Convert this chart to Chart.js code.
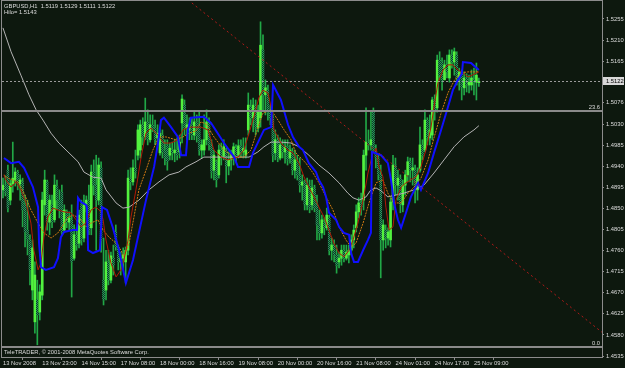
<!DOCTYPE html>
<html><head><meta charset="utf-8">
<script src="https://cdn.jsdelivr.net/npm/chart.js@4/dist/chart.umd.min.js"></script>
<style>html,body{margin:0;padding:0;background:#0d180e;overflow:hidden}canvas{display:block}</style>
</head><body><canvas id="c" width="625" height="368"></canvas>
<script>
// ---- data (GBPUSD H1, 13 Nov 2008 07:00 .. 25 Nov 2008 11:00) ----
const openPrices=[1.4890,1.4900,1.4932,1.4868,1.4903,1.4911,1.4928,1.4903,1.4907,1.4858,1.4804,1.4783,1.4676,1.4608,1.4655,1.4629,1.4665,1.4858,1.4907,1.4821,1.4858,1.4826,1.4898,1.4868,1.4885,1.4804,1.4843,1.4821,1.4826,1.4744,1.4794,1.4776,1.4858,1.4787,1.4858,1.4868,1.4809,1.4928,1.4900,1.4868,1.4937,1.4697,1.4676,1.4736,1.4697,1.4744,1.4800,1.4768,1.4736,1.4744,1.4736,1.4761,1.4915,1.4907,1.4937,1.4964,1.4975,1.5029,1.5003,1.5035,1.4997,1.5029,1.5022,1.5001,1.4969,1.5007,1.4975,1.4986,1.4964,1.4975,1.4969,1.4975,1.4971,1.5033,1.5071,1.5022,1.5018,1.5029,1.5007,1.5035,1.5029,1.4975,1.4975,1.4997,1.5035,1.4986,1.4932,1.4950,1.4922,1.4975,1.4962,1.4975,1.4941,1.4954,1.4960,1.4979,1.4964,1.4984,1.4971,1.4964,1.5018,1.5067,1.5044,1.5071,1.5022,1.5044,1.5189,1.5093,1.5103,1.5056,1.5044,1.4969,1.4997,1.4958,1.4986,1.4971,1.4982,1.4958,1.4971,1.4932,1.4950,1.4922,1.4900,1.4907,1.4858,1.4900,1.4858,1.4894,1.4858,1.4815,1.4798,1.4821,1.4809,1.4830,1.4761,1.4772,1.4751,1.4736,1.4744,1.4761,1.4744,1.4751,1.4761,1.4783,1.4809,1.4843,1.4862,1.4868,1.4964,1.4992,1.4986,1.5056,1.4975,1.4958,1.4922,1.4783,1.4804,1.4787,1.4783,1.4864,1.4943,1.4900,1.4915,1.4858,1.4900,1.4922,1.4950,1.4932,1.4932,1.4890,1.4932,1.4986,1.4975,1.5039,1.5001,1.5007,1.5082,1.5065,1.5167,1.5163,1.5125,1.5157,1.5129,1.5178,1.5163,1.5178,1.5129,1.5142,1.5108,1.5129,1.5114,1.5114,1.5125,1.5120,1.5119];
const highPrices=[1.4915,1.4920,1.4943,1.4911,1.4992,1.4937,1.4932,1.4922,1.4915,1.4879,1.4868,1.4794,1.4783,1.4736,1.4697,1.4687,1.4885,1.4932,1.4911,1.4879,1.4879,1.4922,1.4911,1.4890,1.4900,1.4858,1.4847,1.4843,1.4858,1.4815,1.4809,1.4847,1.4868,1.4879,1.4877,1.4900,1.4943,1.4954,1.4964,1.4958,1.4950,1.4787,1.4761,1.4761,1.4757,1.4772,1.4815,1.4772,1.4757,1.4766,1.4768,1.4932,1.4937,1.4954,1.4975,1.5029,1.5039,1.5044,1.5086,1.5061,1.5050,1.5050,1.5039,1.5029,1.5022,1.5018,1.4997,1.4997,1.4990,1.4992,1.4997,1.5001,1.5007,1.5093,1.5082,1.5050,1.5044,1.5044,1.5056,1.5050,1.5056,1.4997,1.5050,1.5061,1.5044,1.4997,1.4975,1.4954,1.4986,1.4990,1.4997,1.4979,1.4971,1.4975,1.4990,1.4986,1.4997,1.4997,1.5001,1.5001,1.5097,1.5082,1.5086,1.5082,1.5071,1.5249,1.5221,1.5125,1.5114,1.5071,1.5050,1.5018,1.5007,1.5001,1.4997,1.4997,1.4997,1.4986,1.4979,1.4975,1.4964,1.4958,1.4922,1.4911,1.4915,1.4911,1.4911,1.4900,1.4879,1.4847,1.4836,1.4830,1.4851,1.4836,1.4787,1.4783,1.4772,1.4757,1.4772,1.4772,1.4772,1.4772,1.4794,1.4815,1.4858,1.4873,1.4883,1.4975,1.5065,1.5018,1.5056,1.5065,1.4986,1.4964,1.4943,1.4826,1.4815,1.4809,1.4873,1.4964,1.4958,1.4932,1.4922,1.4911,1.4932,1.4960,1.4958,1.4958,1.4943,1.4937,1.5024,1.4997,1.5061,1.5044,1.5050,1.5088,1.5093,1.5178,1.5185,1.5172,1.5167,1.5178,1.5189,1.5189,1.5193,1.5185,1.5150,1.5146,1.5142,1.5138,1.5135,1.5146,1.5150,1.5161,1.5129];
const lowPrices=[1.4873,1.4877,1.4843,1.4858,1.4885,1.4898,1.4890,1.4868,1.4811,1.4768,1.4751,1.4687,1.4655,1.4584,1.4559,1.4612,1.4655,1.4836,1.4804,1.4794,1.4809,1.4821,1.4847,1.4830,1.4794,1.4800,1.4809,1.4804,1.4661,1.4740,1.4761,1.4766,1.4772,1.4779,1.4843,1.4794,1.4794,1.4879,1.4761,1.4858,1.4757,1.4644,1.4655,1.4687,1.4691,1.4708,1.4761,1.4719,1.4708,1.4719,1.4691,1.4751,1.4890,1.4900,1.4915,1.4954,1.4958,1.4986,1.4997,1.4986,1.4992,1.5014,1.4986,1.4986,1.4964,1.4958,1.4943,1.4932,1.4954,1.4954,1.4950,1.4954,1.4958,1.4990,1.5007,1.4997,1.4997,1.4997,1.4997,1.4992,1.4964,1.4958,1.4964,1.4986,1.4975,1.4915,1.4911,1.4896,1.4915,1.4943,1.4954,1.4905,1.4922,1.4932,1.4943,1.4950,1.4958,1.4960,1.4958,1.4958,1.5007,1.5029,1.5014,1.5007,1.5014,1.5024,1.5061,1.5050,1.5039,1.5029,1.4950,1.4954,1.4950,1.4954,1.4958,1.4947,1.4943,1.4947,1.4922,1.4915,1.4911,1.4885,1.4868,1.4847,1.4847,1.4841,1.4847,1.4843,1.4783,1.4783,1.4787,1.4794,1.4804,1.4751,1.4740,1.4736,1.4712,1.4723,1.4729,1.4736,1.4740,1.4734,1.4751,1.4766,1.4800,1.4830,1.4836,1.4847,1.4932,1.4975,1.4975,1.4971,1.4937,1.4911,1.4702,1.4761,1.4766,1.4772,1.4768,1.4847,1.4879,1.4868,1.4841,1.4843,1.4879,1.4907,1.4907,1.4900,1.4862,1.4868,1.4928,1.4954,1.4971,1.4986,1.4986,1.4997,1.5039,1.5056,1.5125,1.5103,1.5125,1.5129,1.5120,1.5150,1.5135,1.5114,1.5103,1.5082,1.5093,1.5099,1.5097,1.5103,1.5093,1.5082,1.5111];
const closePrices=[1.4900,1.4885,1.4851,1.4903,1.4915,1.4928,1.4903,1.4911,1.4847,1.4800,1.4783,1.4719,1.4766,1.4708,1.4623,1.4672,1.4868,1.4911,1.4821,1.4868,1.4821,1.4900,1.4868,1.4847,1.4800,1.4847,1.4821,1.4830,1.4736,1.4794,1.4772,1.4836,1.4783,1.4858,1.4868,1.4804,1.4928,1.4900,1.4868,1.4943,1.4783,1.4655,1.4736,1.4697,1.4749,1.4729,1.4768,1.4736,1.4744,1.4751,1.4761,1.4915,1.4907,1.4937,1.4928,1.5018,1.5029,1.5003,1.5035,1.4997,1.5029,1.5022,1.4997,1.5011,1.5011,1.4971,1.4958,1.4950,1.4979,1.4969,1.4975,1.4964,1.4992,1.5084,1.5022,1.5029,1.5029,1.5007,1.5035,1.5005,1.4975,1.4986,1.4997,1.5035,1.4986,1.4928,1.4964,1.4911,1.4975,1.4962,1.4982,1.4941,1.4954,1.4964,1.4982,1.4958,1.4984,1.4971,1.4979,1.4975,1.5071,1.5044,1.5071,1.5022,1.5056,1.5199,1.5093,1.5108,1.5056,1.5044,1.4964,1.4997,1.4958,1.4986,1.4971,1.4982,1.4954,1.4975,1.4932,1.4954,1.4922,1.4900,1.4907,1.4858,1.4900,1.4851,1.4894,1.4851,1.4815,1.4798,1.4826,1.4809,1.4836,1.4761,1.4772,1.4751,1.4729,1.4744,1.4761,1.4744,1.4757,1.4761,1.4783,1.4804,1.4843,1.4862,1.4853,1.4964,1.4992,1.4986,1.4997,1.4975,1.4958,1.4922,1.4783,1.4815,1.4787,1.4800,1.4864,1.4943,1.4900,1.4915,1.4858,1.4900,1.4922,1.4950,1.4932,1.4937,1.4890,1.4922,1.4986,1.4964,1.5039,1.5001,1.5018,1.5082,1.5061,1.5167,1.5135,1.5120,1.5157,1.5142,1.5178,1.5163,1.5185,1.5129,1.5142,1.5108,1.5129,1.5114,1.5120,1.5129,1.5120,1.5135,1.5122];

// indicator lines: [bar index, price]
const blueLine=[[0.4,1.4958],[3.3,1.4947],[6.5,1.4950],[8.6,1.4937],[12.2,1.4896],[14.3,1.4853],[14.7,1.4776],[15.5,1.4725],[17.5,1.4719],[20.8,1.4725],[22.4,1.4744],[23.6,1.4789],[24.9,1.4800],[28.5,1.4804],[30.2,1.4804],[30.6,1.4873],[31.8,1.4864],[33.8,1.4858],[34.2,1.4853],[34.7,1.4761],[36.7,1.4755],[39.5,1.4761],[40.4,1.4853],[42.4,1.4847],[44.8,1.4809],[47.3,1.4761],[50.1,1.4691],[53.0,1.4740],[58.3,1.4868],[61.6,1.4939],[63.2,1.4990],[64.4,1.5039],[65.6,1.5044],[68.5,1.5024],[71.3,1.5003],[72.6,1.4964],[74.6,1.4964],[75.4,1.5018],[76.6,1.5044],[81.9,1.5046],[84.8,1.5033],[90.1,1.4990],[94.2,1.4960],[95.8,1.4939],[100.3,1.4939],[101.9,1.4969],[106.4,1.5018],[109.3,1.5024],[110.1,1.5114],[113.3,1.5082],[116.2,1.5029],[118.2,1.5003],[120.7,1.4982],[122.3,1.4975],[124.7,1.4947],[127.6,1.4928],[128.8,1.4911],[130.5,1.4896],[131.7,1.4875],[132.9,1.4841],[135.8,1.4826],[137.0,1.4811],[139.0,1.4798],[141.1,1.4794],[141.9,1.4755],[143.1,1.4736],[144.7,1.4736],[146.8,1.4761],[148.8,1.4783],[150.0,1.4798],[150.4,1.4971],[154.1,1.4964],[156.9,1.4947],[158.2,1.4911],[159.4,1.4862],[161.0,1.4826],[162.3,1.4809],[164.3,1.4841],[166.3,1.4875],[169.2,1.4905],[170.4,1.4890],[173.3,1.4926],[175.7,1.4969],[178.6,1.5018],[181.4,1.5067],[183.4,1.5103],[185.5,1.5125],[187.1,1.5138],[187.5,1.5163],[190.8,1.5161],[194.0,1.5146]];
const redLine=[[0.4,1.4922],[1.2,1.4911],[3.3,1.4896],[5.3,1.4907],[7.3,1.4890],[9.4,1.4862],[11.4,1.4819],[12.6,1.4761],[14.3,1.4719],[15.5,1.4734],[16.7,1.4789],[18.3,1.4832],[20.4,1.4851],[22.4,1.4847],[24.9,1.4843],[27.7,1.4841],[29.8,1.4826],[31.8,1.4811],[33.8,1.4819],[35.9,1.4847],[37.9,1.4853],[40.0,1.4843],[40.8,1.4826],[42.0,1.4783],[44.0,1.4734],[46.1,1.4704],[48.1,1.4719],[49.3,1.4740],[51.0,1.4783],[52.2,1.4832],[54.2,1.4890],[56.3,1.4960],[58.3,1.5011],[60.3,1.5022],[63.2,1.5007],[65.6,1.4990],[68.5,1.4990],[71.3,1.4997],[73.4,1.5018],[75.8,1.5024],[80.7,1.5024],[83.6,1.5018],[86.0,1.4975],[88.9,1.4960],[91.7,1.4954],[95.8,1.4960],[98.2,1.4975],[100.3,1.5011],[102.3,1.5046],[104.4,1.5088],[106.0,1.5103],[108.0,1.5097],[109.3,1.5067],[110.5,1.5018],[113.3,1.4990],[116.2,1.4975],[118.2,1.4969],[120.7,1.4947],[122.7,1.4918],[124.7,1.4896],[126.8,1.4875],[128.8,1.4853],[130.9,1.4832],[132.9,1.4804],[134.9,1.4776],[137.0,1.4755],[139.0,1.4747],[141.1,1.4761],[142.7,1.4783],[144.7,1.4819],[146.8,1.4868],[148.8,1.4926],[150.8,1.4969],[152.1,1.4979],[153.3,1.4939],[154.9,1.4918],[156.1,1.4853],[157.4,1.4804],[159.0,1.4811],[160.2,1.4868],[162.3,1.4896],[164.3,1.4905],[166.3,1.4911],[168.4,1.4918],[170.4,1.4939],[172.4,1.4975],[174.5,1.5024],[175.7,1.5067],[177.3,1.5118],[179.4,1.5146],[181.4,1.5157],[183.4,1.5157],[185.5,1.5146],[187.5,1.5140],[189.6,1.5131],[192.0,1.5137],[194.0,1.5142]];
const orangeLine=[[0.4,1.4922],[2.0,1.4915],[6.1,1.4907],[8.6,1.4883],[11.4,1.4847],[14.3,1.4819],[16.7,1.4798],[19.6,1.4787],[22.4,1.4798],[24.5,1.4815],[26.5,1.4832],[28.9,1.4836],[31.8,1.4826],[33.8,1.4811],[35.9,1.4819],[38.7,1.4826],[40.8,1.4804],[43.2,1.4789],[46.1,1.4776],[48.1,1.4761],[49.3,1.4747],[51.4,1.4776],[53.4,1.4832],[55.4,1.4890],[58.3,1.4932],[61.1,1.4975],[63.6,1.5003],[66.5,1.5003],[70.5,1.4997],[73.4,1.5003],[75.8,1.5011],[78.7,1.5016],[80.7,1.5035],[82.8,1.5031],[86.0,1.5003],[90.1,1.4975],[94.2,1.4960],[98.2,1.4960],[101.1,1.4975],[104.0,1.5024],[106.0,1.5054],[109.3,1.5061],[112.1,1.5039],[114.6,1.5018],[117.4,1.4997],[119.4,1.4969],[123.5,1.4947],[126.4,1.4926],[128.8,1.4905],[131.7,1.4875],[134.5,1.4847],[137.0,1.4811],[139.8,1.4783],[141.9,1.4768],[143.9,1.4776],[146.8,1.4819],[149.2,1.4862],[152.1,1.4905],[154.9,1.4911],[156.9,1.4883],[159.4,1.4862],[162.3,1.4862],[165.1,1.4883],[167.6,1.4896],[170.4,1.4915],[173.3,1.4954],[175.7,1.5001],[178.6,1.5054],[181.4,1.5097],[183.9,1.5123],[186.7,1.5140],[189.6,1.5142],[194.0,1.5142]];
const grayLine=[[0.0,1.5236],[3.3,1.5185],[7.3,1.5135],[10.6,1.5093],[13.5,1.5061],[16.3,1.5039],[19.6,1.5011],[22.8,1.4990],[26.5,1.4971],[30.6,1.4950],[33.0,1.4928],[36.7,1.4917],[40.0,1.4915],[42.0,1.4890],[46.1,1.4862],[48.9,1.4851],[51.4,1.4853],[55.4,1.4868],[59.5,1.4890],[63.6,1.4907],[67.7,1.4922],[71.7,1.4928],[74.6,1.4939],[78.7,1.4950],[81.9,1.4960],[90.1,1.4960],[100.3,1.4960],[103.9,1.4971],[106.4,1.4982],[109.3,1.4992],[113.3,1.4992],[117.4,1.4990],[120.7,1.4982],[124.7,1.4964],[128.8,1.4943],[132.9,1.4926],[137.0,1.4905],[140.6,1.4883],[142.7,1.4873],[145.1,1.4868],[148.0,1.4875],[150.0,1.4890],[152.1,1.4894],[154.1,1.4888],[156.9,1.4875],[160.2,1.4879],[163.5,1.4883],[167.6,1.4890],[171.6,1.4900],[175.7,1.4926],[179.8,1.4954],[183.9,1.4982],[187.9,1.5003],[192.0,1.5018],[194.0,1.5027]];
const trendLine=[[75.4,1.5296],[244.6,1.4584]];
const fibLevels=[['23.6',1.5058],['0.0',1.4554]];
const bidPrice=1.5122;
const xTickIndex=[0,16,32,48,64,80,96,112,128,144,160,176,192];
const xTickLabels=['13 Nov 2008','13 Nov 23:00','14 Nov 15:00','17 Nov 08:00','18 Nov 00:00','18 Nov 16:00','19 Nov 08:00','20 Nov 00:00','20 Nov 16:00','21 Nov 08:00','24 Nov 01:00','24 Nov 17:00','25 Nov 09:00'];
const yTickValues=[1.4535,1.4580,1.4625,1.4670,1.4715,1.4760,1.4805,1.4850,1.4895,1.4940,1.4985,1.5030,1.5076,1.5165,1.5210,1.5255];
const yTickLabels=['1.4535','1.4580','1.4625','1.4670','1.4715','1.4760','1.4805','1.4850','1.4895','1.4940','1.4985','1.5030','1.5076','1.5165','1.5210','1.5255'];
const headerLines=['GBPUSD,H1  1.5119 1.5129 1.5111 1.5122','Hilo= 1.5143'];
const copyrightText='TeleTRADER, \u00a9 2001-2008 MetaQuotes Software Corp.';

// ---- styling ----
const BG='#0d180e', FG='#dcdcdc', FRAME='#8c8c8c';
const FONT='"Liberation Sans", Arial, sans-serif';
const FS=5.8;
const pc=document.createElement('canvas'); pc.width=2; pc.height=2;
const pctx=pc.getContext('2d');
pctx.fillStyle='#0f3a24'; pctx.fillRect(0,0,2,2);
pctx.fillStyle='#2a9c62'; pctx.fillRect(0,0,1,1); pctx.fillRect(1,1,1,1);
const bearPattern=document.createElement('canvas').getContext('2d').createPattern(pc,'repeat');

const idx=openPrices.map((_,i)=>i);
const wickData=idx.map(i=>({x:i,y:[lowPrices[i],highPrices[i]]}));
const bodyData=idx.map(i=>({x:i,y:[openPrices[i],closePrices[i]]}));
const bodyColors=idx.map(i=>closePrices[i]>=openPrices[i]?'#52f23e':bearPattern);
const toXY=a=>a.map(([x,y])=>({x,y}));
const lineDs=(data,color,width,dash,order)=>({type:'line',data:toXY(data),borderColor:color,borderWidth:width,borderDash:dash,pointRadius:0,tension:0,fill:false,order});

const mt4={
  id:'mt4',
  beforeDraw(ch){const c=ch.ctx;c.save();c.fillStyle=BG;c.fillRect(0,0,ch.width,ch.height);c.restore();},
  afterDatasetsDraw(ch){
    const c=ch.ctx, ys=ch.scales.y, a=ch.chartArea;
    c.save();
    c.font=FS+'px '+FONT; c.textAlign='right'; c.textBaseline='alphabetic';
    fibLevels.forEach(([lab,p])=>{
      const y=Math.round(ys.getPixelForValue(p));
      c.fillStyle='#8a8a8a'; c.fillRect(a.left,y-1,a.right-a.left,2);
      c.fillStyle=FG; c.fillText(lab,a.right-2,y-2.5);
    });
    const by=Math.round(ys.getPixelForValue(bidPrice))+0.5;
    c.strokeStyle='#9a9a9a'; c.lineWidth=1; c.setLineDash([2,2]);
    c.beginPath(); c.moveTo(a.left,by); c.lineTo(a.right,by); c.stroke();
    c.restore();
  },
  afterDraw(ch){
    const c=ch.ctx, ys=ch.scales.y, a=ch.chartArea;
    c.save();
    c.strokeStyle=FRAME; c.lineWidth=1;
    c.strokeRect(1.5,0.5,a.right-1,a.bottom);
    c.font=FS+'px '+FONT; c.fillStyle=FG; c.textAlign='left'; c.textBaseline='middle';
    c.fillText(headerLines[0],4,6.5);
    c.fillText(headerLines[1],4,12.5);
    c.fillText(copyrightText,4,352.5);
    const by=ys.getPixelForValue(bidPrice);
    c.fillStyle='#d8d8d8'; c.fillRect(a.right+1,Math.round(by)-4,21,8);
    c.fillStyle='#000'; c.fillText(bidPrice.toFixed(4),a.right+4,Math.round(by));
    c.restore();
  }
};

new Chart(document.getElementById('c'),{
  type:'bar',
  data:{datasets:[
    {type:'bar',data:wickData,backgroundColor:'#21a746',barThickness:1,grouped:false,order:10},
    {type:'bar',data:bodyData,backgroundColor:bodyColors,barThickness:2,minBarLength:1,grouped:false,order:9},
    lineDs(grayLine,'#b4b4b4',1,[],6),
    lineDs(orangeLine,'#d27a12',1,[2,1],5),
    lineDs(redLine,'#b01a06',1,[],4),
    lineDs(blueLine,'#1010ff',2,[],3),
    lineDs(trendLine,'#b01818',1,[2,3],2)
  ]},
  plugins:[mt4],
  options:{
    responsive:false, animation:false, devicePixelRatio:1, events:[],
    layout:{padding:{left:2,top:2,right:0,bottom:0}},
    plugins:{legend:{display:false},tooltip:{enabled:false}},
    scales:{
      x:{type:'linear',min:-0.4,max:244.2,offset:false,bounds:'data',
        afterBuildTicks:s=>{s.ticks=xTickIndex.map(v=>({value:v}));},
        afterFit:s=>{s.height=11;s.paddingLeft=0;s.paddingRight=0;},
        grid:{display:true,drawOnChartArea:false,drawTicks:true,tickLength:3,color:FRAME},
        border:{display:false},
        ticks:{autoSkip:false,maxRotation:0,minRotation:0,align:'start',padding:0,color:FG,font:{family:FONT,size:FS},
          callback:(v,i)=>xTickLabels[i]}
      },
      y:{type:'linear',position:'right',min:1.45329,max:1.52913,bounds:'data',
        afterBuildTicks:s=>{s.ticks=yTickValues.map(v=>({value:v}));},
        afterFit:s=>{s.width=23;s.paddingTop=0;s.paddingBottom=0;},
        grid:{display:true,drawOnChartArea:false,drawTicks:true,tickLength:2,color:FRAME},
        border:{display:false},
        ticks:{autoSkip:false,padding:2,color:FG,font:{family:FONT,size:FS},
          callback:(v,i)=>yTickLabels[i]}
      }
    }
  }
});
</script>
</body></html>
